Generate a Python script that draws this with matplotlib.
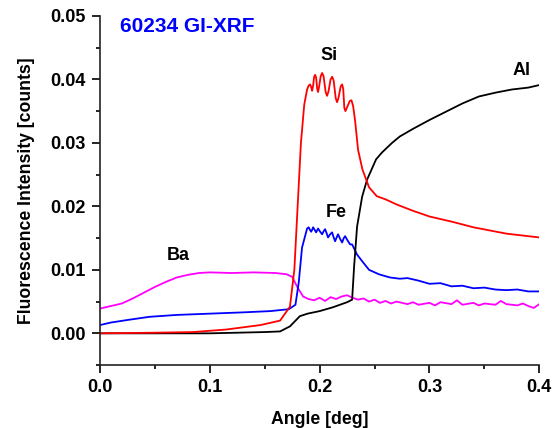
import numpy as np
from matplotlib import pyplot as plt
from matplotlib.ticker import MultipleLocator

plt.rcParams['font.family'] = ['Liberation Sans', 'DejaVu Sans']
plt.rcParams['font.weight'] = 'bold'

# Si (red)
si_x = [0.0, 0.05, 0.085, 0.115, 0.146, 0.164, 0.173, 0.177, 0.180, 0.183, 0.186, 0.1886,
        0.1900, 0.1913, 0.1923, 0.1932, 0.1941, 0.1950, 0.1959, 0.1968, 0.1978, 0.1986,
        0.1995, 0.2010, 0.2023, 0.2036, 0.2055, 0.2068, 0.2081, 0.2100, 0.2114, 0.2128,
        0.2147, 0.2159, 0.2172, 0.2192, 0.2205, 0.2215, 0.2225, 0.2235, 0.2250, 0.2275,
        0.2290, 0.2305, 0.2323, 0.2350, 0.2390, 0.2450, 0.2520, 0.2600, 0.2700, 0.2850,
        0.30, 0.32, 0.34, 0.37, 0.40]
si_y = [0.0, 0.0001, 0.0002, 0.0006, 0.0013, 0.0020, 0.0042, 0.010, 0.020, 0.030, 0.036, 0.0384,
        0.0390, 0.0392, 0.0388, 0.0382, 0.0390, 0.0404, 0.0407, 0.0403, 0.0385, 0.0380,
        0.0388, 0.0405, 0.0410, 0.0405, 0.0380, 0.0374, 0.0381, 0.0400, 0.0404, 0.0398,
        0.0370, 0.0364, 0.0371, 0.0389, 0.0392, 0.0385, 0.0355, 0.0350, 0.0356, 0.0366,
        0.0367, 0.0358, 0.0335, 0.0289, 0.0258, 0.0230, 0.0216, 0.0211, 0.0203, 0.0193,
        0.0184, 0.0176, 0.0167, 0.0157, 0.0151]

# Fe (blue)
fe_x = [0.0, 0.01, 0.025, 0.045, 0.07, 0.10, 0.13, 0.155, 0.172, 0.178, 0.181, 0.184, 0.1886,
        0.1900, 0.1912, 0.1923, 0.1932, 0.1941, 0.1955, 0.1968, 0.1977, 0.1986, 0.2005,
        0.2023, 0.2037, 0.2050, 0.2063, 0.2077, 0.2096, 0.2114, 0.2128, 0.2141, 0.2155,
        0.2168, 0.2186, 0.2205, 0.2220, 0.2232, 0.2255, 0.2278, 0.2296, 0.2341, 0.2390,
        0.2450, 0.2540, 0.2640, 0.2730, 0.28, 0.29, 0.30, 0.31, 0.32, 0.33, 0.34, 0.35,
        0.36, 0.37, 0.38, 0.39, 0.40]
fe_y = [0.0013, 0.0017, 0.0021, 0.0026, 0.0029, 0.0031, 0.0033, 0.0035, 0.0038, 0.0045, 0.008,
        0.0135, 0.0165, 0.0167, 0.0163, 0.0160, 0.0163, 0.0167, 0.0163, 0.0159, 0.0162,
        0.0165, 0.0160, 0.0156, 0.0161, 0.0164, 0.0158, 0.0151, 0.0156, 0.0159, 0.0151,
        0.0145, 0.0151, 0.0156, 0.0149, 0.0143, 0.0150, 0.0153, 0.0146, 0.0140, 0.0140,
        0.0124, 0.0113, 0.0100, 0.0093, 0.0088, 0.0086, 0.0087, 0.0083, 0.0078, 0.0079,
        0.0074, 0.0075, 0.0071, 0.0072, 0.0069, 0.0068, 0.0069, 0.0066, 0.0066]

# Ba (magenta)
ba_x = [0.0, 0.01, 0.02, 0.03, 0.04, 0.05, 0.06, 0.07, 0.08, 0.09, 0.10, 0.12, 0.14, 0.16,
        0.17, 0.175, 0.18, 0.185, 0.19, 0.195, 0.20, 0.205, 0.21, 0.215, 0.22, 0.225, 0.23,
        0.235, 0.24, 0.245, 0.25, 0.255, 0.26, 0.265, 0.27, 0.28, 0.285, 0.29, 0.30, 0.305,
        0.31, 0.32, 0.325, 0.33, 0.34, 0.345, 0.35, 0.36, 0.365, 0.37, 0.38, 0.385, 0.39,
        0.395, 0.40]
ba_y = [0.0039, 0.0043, 0.0047, 0.0055, 0.0064, 0.0073, 0.0081, 0.0088, 0.0092, 0.0095, 0.0096,
        0.0095, 0.0096, 0.0095, 0.0093, 0.0089, 0.0072, 0.0058, 0.0054, 0.0052, 0.0056, 0.0051,
        0.0057, 0.0054, 0.0058, 0.0060, 0.0056, 0.0053, 0.0055, 0.0050, 0.0053, 0.0048, 0.0051,
        0.0047, 0.0050, 0.0046, 0.0049, 0.0045, 0.0048, 0.0044, 0.0049, 0.0046, 0.0052, 0.0045,
        0.0048, 0.0044, 0.0047, 0.0045, 0.0051, 0.0046, 0.0044, 0.0047, 0.0043, 0.0040,
        0.0046]

# Al (black)
al_x = [0.0, 0.10, 0.15, 0.164, 0.173, 0.182, 0.189, 0.200, 0.212, 0.225, 0.2296, 0.2314,
        0.2341, 0.2387, 0.2432, 0.2514, 0.2569, 0.2660, 0.2730, 0.285, 0.30, 0.315, 0.33,
        0.345, 0.36, 0.375, 0.39, 0.40]
al_y = [0.0, 0.0, 0.0002, 0.0003, 0.0011, 0.0027, 0.0031, 0.0035, 0.0041, 0.0049, 0.0053,
        0.0105, 0.0168, 0.0215, 0.0242, 0.0274, 0.0285, 0.0300, 0.0310, 0.0322, 0.0336,
        0.0349, 0.0362, 0.0373, 0.0379, 0.0384, 0.0387, 0.0391]

fig = plt.figure(figsize=(5.52, 4.28), dpi=100)
ax = fig.add_axes([0.181, 0.147, 0.796, 0.816])

lw = 1.3
ax.plot(ba_x, ba_y, color='#ff00ff', lw=lw)
ax.plot(fe_x, fe_y, color='#0000ff', lw=lw)
ax.plot(al_x, al_y, color='black', lw=lw)
ax.plot(si_x, si_y, color='#ff0000', lw=lw)

ax.set_xlim(0, 0.4)
ax.set_ylim(-0.005, 0.05)
ax.spines['top'].set_visible(False)
ax.spines['right'].set_visible(False)
for s in ('left', 'bottom'):
    ax.spines[s].set_linewidth(1.2)
    ax.spines[s].set_color('#222222')

ax.set_xticks([0.0, 0.1, 0.2, 0.3, 0.4])
ax.set_xticklabels(['0.0', '0.1', '0.2', '0.3', '0.4'])
ax.set_yticks([0.0, 0.01, 0.02, 0.03, 0.04, 0.05])
ax.set_yticklabels(['0.00', '0.01', '0.02', '0.03', '0.04', '0.05'])
ax.xaxis.set_minor_locator(MultipleLocator(0.05))
ax.yaxis.set_minor_locator(MultipleLocator(0.005))
ax.tick_params(which='major', length=6, width=1.2, labelsize=13, direction='out', pad=4)
ax.tick_params(which='minor', length=3, width=1.2, direction='out')

ax.set_xlabel('Angle [deg]', fontsize=12.7, fontweight='bold', labelpad=11)
ax.set_ylabel('Fluorescence Intensity [counts]', fontsize=12.7, fontweight='bold', labelpad=11)

ax.text(0.209, 0.0437, 'Si', fontsize=13, fontweight='bold', ha='center', va='center')
ax.text(0.215, 0.0190, 'Fe', fontsize=13, fontweight='bold', ha='center', va='center')
ax.text(0.384, 0.0414, 'Al', fontsize=13, fontweight='bold', ha='center', va='center')
ax.text(0.071, 0.0122, 'Ba', fontsize=13, fontweight='bold', ha='center', va='center')
ax.text(0.018, 0.0483, '60234 GI-XRF', fontsize=15, fontweight='bold', color='#0000ff',
        ha='left', va='center')

fig.savefig('out.png', dpi=100)
